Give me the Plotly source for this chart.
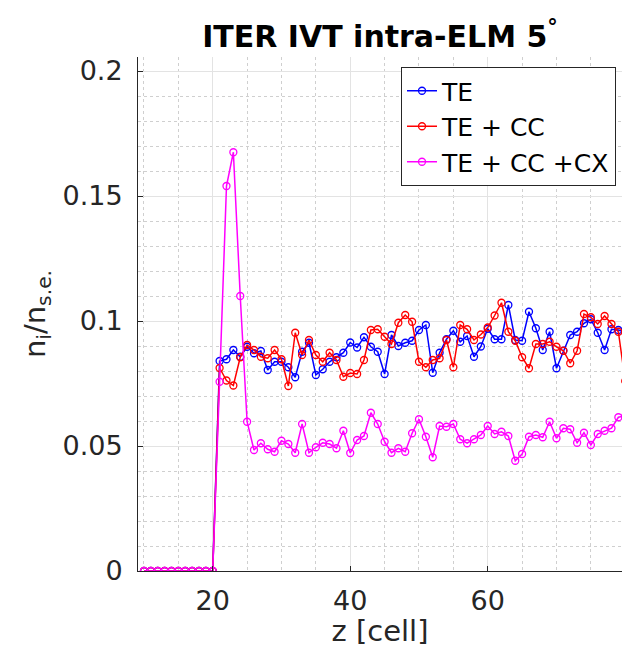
import plotly.graph_objects as go

z = list(range(10, 81))

zeros = [0.0] * 11  # z = 10..20

te = zeros + [
    0.0840, 0.0847, 0.0884, 0.0857, 0.0897, 0.0871, 0.0880, 0.0804, 0.0837, 0.0837,
    0.0815, 0.0775, 0.0877, 0.0913, 0.0784, 0.0807, 0.0837, 0.0855, 0.0873, 0.0914,
    0.0894, 0.0935, 0.0897, 0.0877, 0.0788, 0.0944, 0.0900, 0.0913, 0.0921, 0.0964,
    0.0984, 0.0793, 0.0873, 0.0927, 0.0961, 0.0917, 0.0940, 0.0857, 0.0898, 0.0969,
    0.0927, 0.0927, 0.1064, 0.0924, 0.0921, 0.1037, 0.0971, 0.0884, 0.0957, 0.0811,
    0.0881, 0.0944, 0.0957, 0.0991, 0.1007, 0.0953, 0.0884, 0.0967, 0.0964, 0.0955]

te_cc = zeros + [
    0.0812, 0.0762, 0.0742, 0.0855, 0.0904, 0.0884, 0.0857, 0.0851, 0.0884, 0.0847,
    0.0740, 0.0953, 0.0864, 0.0924, 0.0864, 0.0837, 0.0873, 0.0844, 0.0777, 0.0792,
    0.0788, 0.0844, 0.0964, 0.0967, 0.0937, 0.0908, 0.0993, 0.1024, 0.0997, 0.0837,
    0.0815, 0.0844, 0.0851, 0.0924, 0.0815, 0.0984, 0.0967, 0.0924, 0.0946, 0.0974,
    0.1022, 0.1073, 0.0957, 0.0921, 0.0855, 0.0811, 0.0908, 0.0908, 0.0917, 0.0897,
    0.0881, 0.0831, 0.0881, 0.1028, 0.1015, 0.0988, 0.1020, 0.0988, 0.0957, 0.0760]

te_cc_cx = zeros + [
    0.0757, 0.1540, 0.1675, 0.1100, 0.0597, 0.0484, 0.0511, 0.0487, 0.0477, 0.0521,
    0.0508, 0.0473, 0.0588, 0.0473, 0.0495, 0.0513, 0.0508, 0.0491, 0.0561, 0.0472,
    0.0524, 0.0540, 0.0633, 0.0588, 0.0517, 0.0473, 0.0491, 0.0477, 0.0551, 0.0607,
    0.0537, 0.0455, 0.0580, 0.0577, 0.0588, 0.0527, 0.0511, 0.0527, 0.0544, 0.0580,
    0.0548, 0.0557, 0.0540, 0.0441, 0.0468, 0.0537, 0.0544, 0.0535, 0.0597, 0.0531,
    0.0571, 0.0567, 0.0513, 0.0553, 0.0504, 0.0548, 0.0561, 0.0571, 0.0615, 0.0620]

series_names = ["TE", "TE + CC", "TE + CC +CX"]
series_colors = ["#0000FF", "#FF0000", "#FF00FF"]

x_ticks = [20, 40, 60]
x_ticklabels = ["20", "40", "60"]
y_ticks = [0, 0.05, 0.1, 0.15, 0.2]
y_ticklabels = ["0", "0.05", "0.1", "0.15", "0.2"]

FONT = "DejaVu Sans"
AX = "#262626"

fig = go.Figure()
for name, ys, col in zip(series_names, [te, te_cc, te_cc_cx], series_colors):
    fig.add_trace(go.Scatter(
        x=z, y=ys, name=name, mode="lines+markers",
        line=dict(color=col, width=1.5),
        marker=dict(symbol="circle-open", size=7, color=col, line=dict(width=1.3, color=col)),
        cliponaxis=True,
    ))

fig.update_layout(
    width=623, height=648,
    margin=dict(l=138, r=1, t=57, b=77),
    paper_bgcolor="white", plot_bgcolor="white",
    font=dict(family=FONT, color=AX, size=27),
    title=dict(text="<b>ITER IVT intra-ELM 5<sup>°</sup></b>", x=0.5 * (138 + 622) / 623, xanchor="center",
               y=1 - 36 / 648, yanchor="middle",
               font=dict(family=FONT, size=30, color="black")),
    showlegend=True,
    legend=dict(x=(616 - 138) / 484, xanchor="right", y=(571 - 67) / 514, yanchor="top",
                bgcolor="white", bordercolor=AX, borderwidth=1,
                font=dict(family=FONT, size=25, color="black"),
                itemwidth=30, tracegroupgap=0),
)

fig.update_xaxes(
    range=[9.13, 79.53], tickvals=x_ticks, ticktext=x_ticklabels,
    showgrid=True, gridcolor="#e3e3e3", gridwidth=1,
    minor=dict(dtick=5, tick0=0, showgrid=True, gridcolor="#cfcfcf", griddash="dot", gridwidth=1, ticks=""),
    showline=True, linecolor=AX, linewidth=1,
    ticks="inside", ticklen=5, tickcolor=AX,
    zeroline=False,
    ticklabelstandoff=6,
    tickfont=dict(size=27, color=AX, family=FONT),
    title=dict(text="z [cell]", font=dict(size=29, color=AX, family=FONT), standoff=8),
)
fig.update_yaxes(
    range=[0, 0.2056], tickvals=y_ticks, ticktext=y_ticklabels,
    showgrid=True, gridcolor="#e3e3e3", gridwidth=1,
    minor=dict(dtick=0.01, tick0=0, showgrid=True, gridcolor="#cfcfcf", griddash="dot", gridwidth=1, ticks=""),
    showline=True, linecolor=AX, linewidth=1,
    ticks="inside", ticklen=5, tickcolor=AX,
    zeroline=False,
    ticklabelstandoff=9,
    tickfont=dict(size=27, color=AX, family=FONT),
    title=dict(text="n<sub>i</sub>/n<sub>s.e.</sub>", font=dict(size=29, color=AX, family=FONT), standoff=8),
)

fig.write_html("out.html")
